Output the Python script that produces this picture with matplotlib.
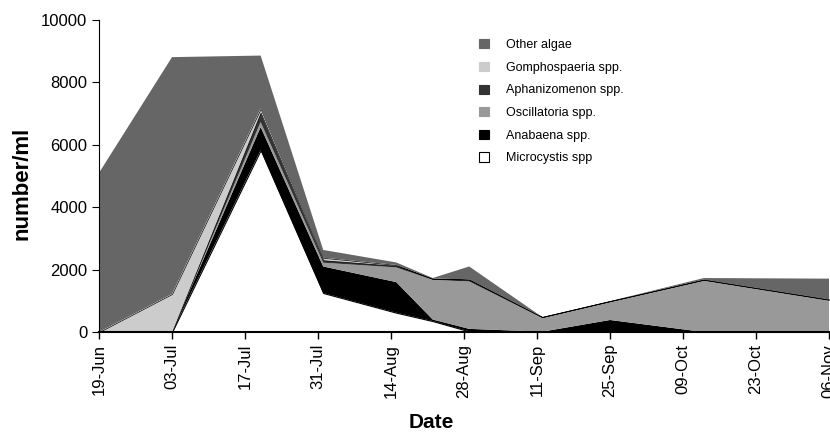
import datetime as dt
import matplotlib
matplotlib.use("Agg")
import matplotlib.pyplot as plt
import matplotlib.dates as mdates
from matplotlib.patches import Patch

plt.rcParams["font.family"] = ["Liberation Sans", "DejaVu Sans"]

# sampling dates and counts (number/ml)
dates = ["2003-06-19", "2003-07-03", "2003-07-20", "2003-08-01", "2003-08-15",
         "2003-08-22", "2003-08-29", "2003-09-12", "2003-09-25", "2003-10-13",
         "2003-11-06"]
microcystis = [0, 0, 5830, 1250, 620, 350, 20, 0, 0, 0, 0]
anabaena = [0, 0, 740, 850, 980, 50, 80, 10, 385, 0, 0]
oscillatoria = [0, 0, 160, 120, 470, 1270, 1520, 440, 570, 1640, 1000]
aphanizomenon = [0, 0, 300, 80, 50, 40, 50, 30, 35, 40, 40]
gomphospaeria = [0, 1220, 130, 80, 30, 0, 20, 0, 0, 0, 0]
other_algae = [5100, 7590, 1700, 250, 80, 20, 410, 0, 0, 50, 670]

labels = ["Microcystis spp", "Anabaena spp.", "Oscillatoria spp.",
          "Aphanizomenon spp.", "Gomphospaeria spp.", "Other algae"]
colors = ["#ffffff", "#000000", "#999999", "#333333", "#cccccc", "#666666"]

x = [dt.datetime.strptime(d, "%Y-%m-%d") for d in dates]
start = dt.datetime(2003, 6, 19)
end = dt.datetime(2003, 11, 6)
ticks = [start + dt.timedelta(days=14 * i) for i in range(11)]

fig = plt.figure(figsize=(8.3, 4.32), dpi=100)
ax = fig.add_axes([99 / 830, 1 - 332 / 432, 730 / 830, 312 / 432])

polys = ax.stackplot(x, microcystis, anabaena, oscillatoria, aphanizomenon,
                     gomphospaeria, other_algae, colors=colors, linewidth=0)
polys[0].set_edgecolor("black")
polys[0].set_linewidth(0.8)
polys[4].set_edgecolor("black")
polys[4].set_linewidth(0.5)

ax.set_xlim(start, end)
ax.set_ylim(0, 10000)
ax.set_yticks(range(0, 10001, 2000))
ax.set_xticks(ticks)
ax.xaxis.set_major_formatter(mdates.DateFormatter("%d-%b"))
plt.setp(ax.get_xticklabels(), rotation=90)

for s in ["top", "right"]:
    ax.spines[s].set_visible(False)
ax.spines["bottom"].set_linewidth(1.5)
ax.spines["left"].set_linewidth(0.8)
ax.tick_params(axis="both", labelsize=12, direction="out", length=5)
ax.tick_params(axis="x", width=1.0)

ax.set_xlabel("Date", fontsize=15, fontweight="bold")
ax.xaxis.set_label_coords((431 - 99) / 730, -(423 - 332) / 312)
ax.xaxis.label.set_va("center")
ax.set_ylabel("number/ml", fontsize=16, fontweight="bold")
ax.yaxis.set_label_coords(-(99 - 22) / 730, (332 - 183) / 312)
ax.yaxis.label.set_va("center")

handles = [Patch(facecolor=c, edgecolor="black" if c == "#ffffff" else c, linewidth=0.8)
           for c in colors]
ax.legend(handles[::-1], labels[::-1], loc="upper left",
          bbox_to_anchor=(473 / 830, 1 - 33 / 432), bbox_transform=fig.transFigure,
          frameon=False, fontsize=9, handlelength=0.75, handleheight=0.75,
          handletextpad=1.4, labelspacing=0.85, borderpad=0)

fig.savefig("out.png", dpi=100)
